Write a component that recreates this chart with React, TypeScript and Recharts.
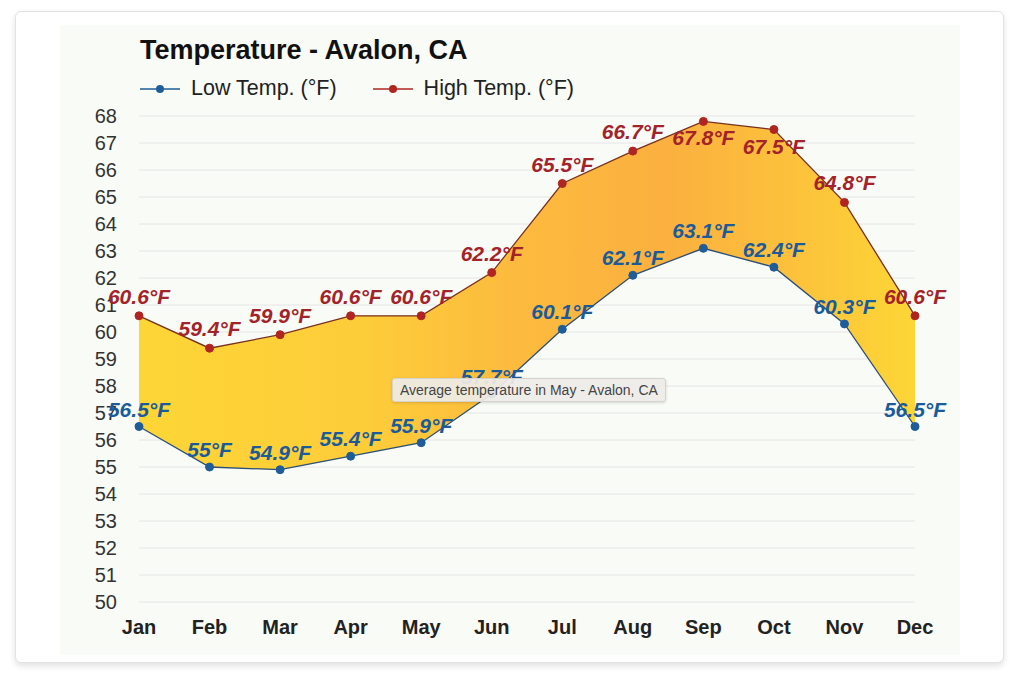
import { ComposedChart, Area, Line, XAxis, YAxis, CartesianGrid, Tooltip, LabelList } from 'recharts';

const months = ['Jan', 'Feb', 'Mar', 'Apr', 'May', 'Jun', 'Jul', 'Aug', 'Sep', 'Oct', 'Nov', 'Dec'];
const lowTemps = [56.5, 55, 54.9, 55.4, 55.9, 57.7, 60.1, 62.1, 63.1, 62.4, 60.3, 56.5];
const highTemps = [60.6, 59.4, 59.9, 60.6, 60.6, 62.2, 65.5, 66.7, 67.8, 67.5, 64.8, 60.6];
const yTicks = [50, 51, 52, 53, 54, 55, 56, 57, 58, 59, 60, 61, 62, 63, 64, 65, 66, 67, 68];

const font = '"Liberation Sans", Arial, Helvetica, sans-serif';
const PLOT_TOP = 116;

const data = months.map((m, i) => ({
  month: m,
  low: lowTemps[i],
  high: highTemps[i],
  range: [lowTemps[i], highTemps[i]],
}));

// data label: above the point, flipped below when it would leave the plot area
function makeLabel(color: string, offset: number) {
  return (props: any) => {
    const { x, y, value } = props;
    const above = y - offset - 16 >= PLOT_TOP;
    return (
      <text x={x} y={above ? y - offset : y + 24} textAnchor="middle" fill={color}
        style={{ fontSize: 21, fontWeight: 'bold', fontStyle: 'italic', fontFamily: font }}>
        {`${value}°F`}
      </text>
    );
  };
}

function TipBox() {
  return (
    <div style={{
      background: 'rgba(238,236,232,0.93)', border: '1px solid #d6d3cf', borderRadius: 3,
      padding: '3px 7px', fontFamily: font, fontSize: 14, color: '#444', whiteSpace: 'nowrap',
      boxShadow: '0 1px 3px rgba(0,0,0,0.15)',
    }}>
      Average temperature in May - Avalon, CA
    </div>
  );
}

function LegendItem({ color, label }: { color: string, label: string }) {
  return (
    <div style={{ display: 'flex', alignItems: 'center', marginRight: 36 }}>
      <svg width={42} height={12} style={{ marginRight: 9 }}>
        <line x1={0} y1={6} x2={40} y2={6} stroke={color} strokeWidth={1.5} />
        <circle cx={20} cy={6} r={4} fill={color} />
      </svg>
      <span>{label}</span>
    </div>
  );
}

export default function App() {
  return (
    <div style={{ position: 'absolute', left: 0, top: 0, width: 1024, height: 683, background: '#fff', overflow: 'hidden' }}>
      {/* card */}
      <div style={{
        position: 'absolute', left: 15, top: 11, width: 987, height: 650, border: '1px solid #e2e2e2',
        borderRadius: 6, background: '#fff', boxShadow: '0 3px 6px rgba(0,0,0,0.12)',
      }} />
      <div style={{ position: 'absolute', left: 60, top: 25, width: 900, height: 630, background: '#f9fbf6' }} />

      <div style={{ position: 'absolute', left: 140, top: 35, fontFamily: font, fontSize: 27, fontWeight: 'bold', color: '#111' }}>
        Temperature - Avalon, CA
      </div>
      <div style={{ position: 'absolute', left: 140, top: 76, display: 'flex', fontFamily: font, fontSize: 21.5, color: '#222' }}>
        <LegendItem color="#1f5d99" label="Low Temp. (°F)" />
        <LegendItem color="#b02521" label="High Temp. (°F)" />
      </div>

      <div style={{ position: 'absolute', left: 0, top: 0 }}>
        <ComposedChart width={1024} height={683} data={data} margin={{ top: PLOT_TOP, right: 109, bottom: 51, left: 79 }}>
          <defs>
            <linearGradient id="bandFill" x1="0" y1="0" x2="1" y2="0">
              <stop offset="0%" stopColor="#fdd636" />
              <stop offset="30%" stopColor="#fdcc3a" />
              <stop offset="48%" stopColor="#fcbb3e" />
              <stop offset="68%" stopColor="#fbb03f" />
              <stop offset="84%" stopColor="#fcc13c" />
              <stop offset="100%" stopColor="#fdd636" />
            </linearGradient>
          </defs>
          <CartesianGrid vertical={false} stroke="#e6e6e6" />
          <XAxis dataKey="month" axisLine={false} tickLine={false} tickMargin={12} height={30}
            tick={{ fontSize: 20, fontWeight: 'bold', fill: '#222', fontFamily: font }} />
          <YAxis domain={[50, 68]} ticks={yTicks} interval={0} axisLine={false} tickLine={false} width={60} tickMargin={16}
            tick={{ fontSize: 20, fill: '#333', fontFamily: font }} />
          <Area dataKey="range" stroke="none" fill="url(#bandFill)" fillOpacity={1} isAnimationActive={false} activeDot={false} />
          <Line dataKey="low" stroke="#2c4f78" strokeWidth={1.3} isAnimationActive={false}
            dot={{ r: 4, fill: '#1f5d99', stroke: '#1f5d99', strokeWidth: 1 }} activeDot={false}>
            <LabelList dataKey="low" content={makeLabel('#1b5b9a', 10)} />
          </Line>
          <Line dataKey="high" stroke="#7a2f1f" strokeWidth={1.3} isAnimationActive={false}
            dot={{ r: 4, fill: '#b02521', stroke: '#b02521', strokeWidth: 1 }} activeDot={false}>
            <LabelList dataKey="high" content={makeLabel('#a3232a', 12)} />
          </Line>
          <Tooltip active defaultIndex={4} cursor={false} position={{ x: 392, y: 378 }} content={<TipBox />}
            isAnimationActive={false} />
        </ComposedChart>
      </div>
    </div>
  );
}
